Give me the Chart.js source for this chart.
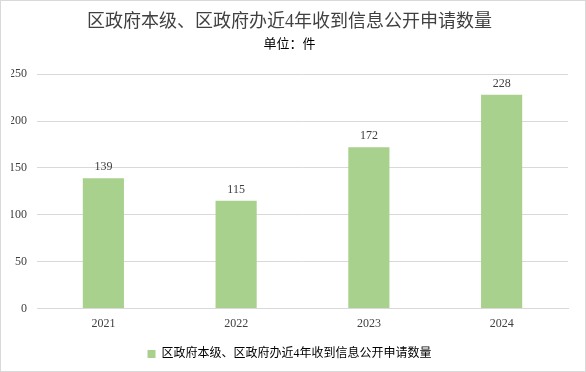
<!DOCTYPE html>
<html><head><meta charset="utf-8">
<script src="https://cdn.jsdelivr.net/npm/chart.js@4"></script>
<style>
html,body{margin:0;padding:0;background:#fff;}
#wrap{width:586px;height:372px;box-sizing:border-box;border:1px solid #d9d9d9;position:relative;}
canvas{display:block;}
</style></head><body>
<div id="wrap"><canvas id="c" width="584" height="370"></canvas></div>
<script>
const categories = ["2021","2022","2023","2024"];
const values = [139,115,172,228];
const seriesName = "区政府本级、区政府办近4年收到信息公开申请数量";
const titleText = "区政府本级、区政府办近4年收到信息公开申请数量";
const subtitleText = "单位：件";
const yTicks = [0,50,100,150,200,250];

const FONT = "'Liberation Serif','Noto Sans CJK SC',serif";
const CJK = "'Liberation Serif','Noto Sans CJK SC',sans-serif";

const labelPlugin = {
  id:'dlabels',
  afterDatasetsDraw(chart){
    const ctx = chart.ctx;
    const meta = chart.getDatasetMeta(0);
    ctx.save();
    ctx.font = "12px " + FONT;
    ctx.fillStyle = "#404040";
    ctx.textAlign = "center";
    ctx.textBaseline = "bottom";
    meta.data.forEach((bar,i)=>{
      ctx.fillText(String(values[i]), bar.x, bar.y - 5);
    });
    ctx.restore();
  }
};

new Chart(document.getElementById('c'), {
  type:'bar',
  data:{
    labels:categories,
    datasets:[{
      label:seriesName,
      data:values,
      backgroundColor:'#A9D18E',
      borderWidth:0,
      categoryPercentage:1.0,
      barPercentage:0.31
    }]
  },
  options:{
    responsive:false,
    animation:false,
    devicePixelRatio:1,
    layout:{padding:{left:10,right:17,top:6,bottom:1}},
    plugins:{
      title:{display:true,text:titleText,color:'#404040',font:{family:CJK,size:18,weight:'normal'},padding:{top:4,bottom:2}},
      subtitle:{display:true,text:subtitleText,color:'#000',font:{family:CJK,size:13,weight:'normal'},padding:{top:2,bottom:22}},
      legend:{display:true,position:'bottom',labels:{boxWidth:8,boxHeight:8,color:'#000',font:{family:CJK,size:12},padding:9}},
      tooltip:{enabled:false}
    },
    scales:{
      x:{
        grid:{display:false,drawTicks:false},
        border:{display:true,color:'#d9d9d9'},
        ticks:{color:'#404040',font:{family:FONT,size:12},padding:8}
      },
      y:{
        min:0,max:250,
        afterBuildTicks(s){ s.ticks = yTicks.map(v=>({value:v})); },
        grid:{color:'#d9d9d9',drawTicks:false},
        border:{display:false},
        ticks:{color:'#404040',font:{family:FONT,size:12},padding:10},
        afterFit(s){ s.width = 26; }
      }
    }
  },
  plugins:[labelPlugin]
});
</script>
</body></html>
